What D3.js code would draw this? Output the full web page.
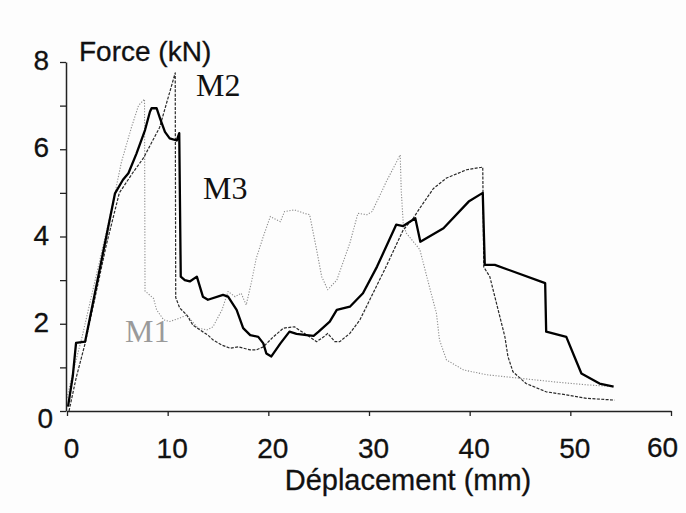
<!DOCTYPE html>
<html><head><meta charset="utf-8">
<script src="https://cdn.jsdelivr.net/npm/d3@7"></script>
<style>
html,body{margin:0;padding:0;background:#fff;}
svg{display:block;}
</style>
</head><body>
<svg id="chart" width="686" height="513"></svg>
<script>
// ---- data (displacement mm, force kN) ----
const seriesNames = ["M1", "M2", "M3"];
const xTicks = [0, 10, 20, 30, 40, 50, 60];
const yTicks = [0, 2, 4, 6, 8];
const yMinorTicks = [1, 3, 5, 7];

const m1X = [0,0.6,1.5,3,4.5,5.4,6.4,7.1,7.7,7.75,8.6,8.9,9.6,10.2,11.2,11.9,13.0,13.9,14.5,15.4,16.0,16.7,17.3,17.8,18.3,18.8,19.5,20.2,20.5,21.2,21.6,22.6,23.6,24.1,24.8,25.3,25.9,26.8,28.1,28.9,29.8,30.3,31.1,31.7,33.1,33.2,33.4,33.7,35.05,36.0,36.7,37.0,37.7,39.4,41.7,45.0,48.3,51.6,54.2];
const m1Y = [0.3,0.9,1.7,3.2,4.7,5.7,6.5,7.0,7.15,2.75,2.58,2.32,2.09,2.05,2.13,2.2,1.9,1.86,1.93,2.32,2.74,2.62,2.7,2.43,2.93,3.5,4.0,4.46,4.42,4.34,4.57,4.61,4.53,4.5,3.69,3.08,2.78,3.0,3.85,4.53,4.5,4.57,4.95,5.25,5.87,5.07,4.3,4.08,3.7,2.85,2.24,1.63,1.17,0.94,0.83,0.75,0.67,0.6,0.56];

const m2X = [0.2,0.9,1.8,2.6,3.9,5.2,6.5,7.6,9.2,10.75,10.8,11.2,11.9,12.5,13.2,14.0,14.5,15.4,16.2,17.0,18.2,18.8,19.5,20.5,21.5,22.6,23.3,24.1,24.8,25.5,25.9,26.6,27.1,28.1,29.1,30.4,31.7,33.4,34.4,35.05,36.4,37.7,39.7,41.3,41.4,42.0,42.5,43.0,43.5,43.8,44.3,45.6,47.6,49.6,51.6,54.4];
const m2Y = [0,0.75,1.55,2.4,3.8,5.0,5.45,5.8,6.5,7.75,2.6,2.36,2.2,1.97,1.86,1.74,1.63,1.51,1.44,1.47,1.4,1.4,1.47,1.7,1.9,1.93,1.82,1.7,1.59,1.7,1.78,1.59,1.59,1.78,2.09,2.7,3.31,4.15,4.42,4.65,5.1,5.34,5.53,5.59,3.3,3.08,2.62,2.16,1.7,1.25,0.9,0.63,0.44,0.37,0.29,0.25];

const m3X = [0.1,0.57,0.9,1.8,4.77,5.56,6.1,6.9,7.75,8.24,8.4,8.9,9.24,9.73,10.2,10.9,11.15,11.3,11.7,12.2,12.9,13.5,14.0,15.5,16.0,16.85,17.5,18.2,19.0,19.5,19.8,20.3,21.2,22.1,22.8,23.8,24.5,25,26.1,26.8,28.1,29.4,30.8,32.7,33.4,34.6,35.1,37.4,39.9,41.3,41.5,42.5,47.5,47.6,49.6,50.4,51.1,52.9,54.3];
const m3Y = [0.1,0.79,1.56,1.59,4.99,5.3,5.45,5.9,6.44,6.86,6.94,6.94,6.71,6.4,6.25,6.2,6.37,3.08,3.0,2.97,3.08,2.62,2.55,2.66,2.62,2.32,1.9,1.74,1.7,1.55,1.32,1.25,1.55,1.82,1.77,1.74,1.72,1.82,2.05,2.32,2.39,2.7,3.31,4.27,4.24,4.42,3.88,4.19,4.8,5.0,3.35,3.35,2.93,1.82,1.70,1.25,0.86,0.63,0.56];

// ---- chart ----
const svg = d3.select("#chart");
const x = d3.scaleLinear().domain([0, 60]).range([67, 671]);
const y = d3.scaleLinear().domain([0, 8]).range([411, 62]);
const sansFont = "'Liberation Sans', Arial, sans-serif";
const serifFont = "'Liberation Serif', 'Times New Roman', serif";

svg.append("rect").attr("width", 686).attr("height", 513).attr("fill", "#fdfdfd");

// series lines
const line = d3.line().x(d => x(d[0])).y(d => y(d[1]));
const zipXY = (xs, ys) => xs.map((v, i) => [v, ys[i]]);
const seriesData = [zipXY(m1X, m1Y), zipXY(m2X, m2Y), zipXY(m3X, m3Y)];
const seriesStyle = [
  {stroke: "#8c8c8c", width: 1.1, dash: "1.2,1.6"},
  {stroke: "#2a2a2a", width: 1.2, dash: "3,1.4"},
  {stroke: "#000", width: 2.3, dash: null}
];
seriesData.forEach((d, i) => {
  svg.append("path").datum(d)
    .attr("fill", "none")
    .attr("stroke", seriesStyle[i].stroke)
    .attr("stroke-width", seriesStyle[i].width)
    .attr("stroke-dasharray", seriesStyle[i].dash)
    .attr("stroke-linejoin", "round")
    .attr("d", line);
});

// axes
const xAxis = svg.append("g").attr("transform", `translate(0,${y(0)})`)
  .call(d3.axisBottom(x).tickValues(xTicks).tickSize(5).tickSizeOuter(0).tickFormat(() => ""));
const yAxis = svg.append("g").attr("transform", `translate(${x(0) - 1},0)`)
  .call(d3.axisLeft(y).tickValues(yTicks.concat(yMinorTicks)).tickSize(6).tickSizeOuter(0).tickFormat(() => ""));
[xAxis, yAxis].forEach(g => {
  g.select(".domain").attr("stroke", "#222").attr("stroke-width", 1.5);
  g.selectAll(".tick line").attr("stroke", "#222").attr("stroke-width", 1.3);
});

function label(txt, px, py, size, anchor, font, fill) {
  const c = fill || "#111";
  return svg.append("text")
    .attr("x", px).attr("y", py)
    .attr("text-anchor", anchor)
    .attr("font-family", font)
    .attr("font-size", size)
    .attr("fill", c)
    .attr("stroke", c)
    .attr("stroke-width", 0.3)
    .text(txt);
}

// tick labels
xTicks.forEach(v => {
  const last = v === xTicks[xTicks.length - 1];
  label(String(v), x(v) + (last ? -8.5 : 4.5), last ? 457 : 458, 28, "middle", sansFont);
});
yTicks.forEach(v => {
  const zero = v === 0;
  label(String(v), zero ? 53 : 49, y(v) + (zero ? 17 : 8), 28, "end", sansFont);
});

// axis titles
label("Force (kN)", 79, 61, 28, "start", sansFont);
label("Déplacement (mm)", 408, 490, 29, "middle", sansFont);

// series labels
const labelPos = [[125, 342, "#9a9a9a"], [196, 96, "#111"], [203, 199, "#111"]];
seriesNames.forEach((n, i) => {
  svg.append("text")
    .attr("x", labelPos[i][0]).attr("y", labelPos[i][1])
    .attr("font-family", serifFont)
    .attr("font-size", 32)
    .attr("fill", labelPos[i][2])
    .text(n);
});
</script>
</body></html>
